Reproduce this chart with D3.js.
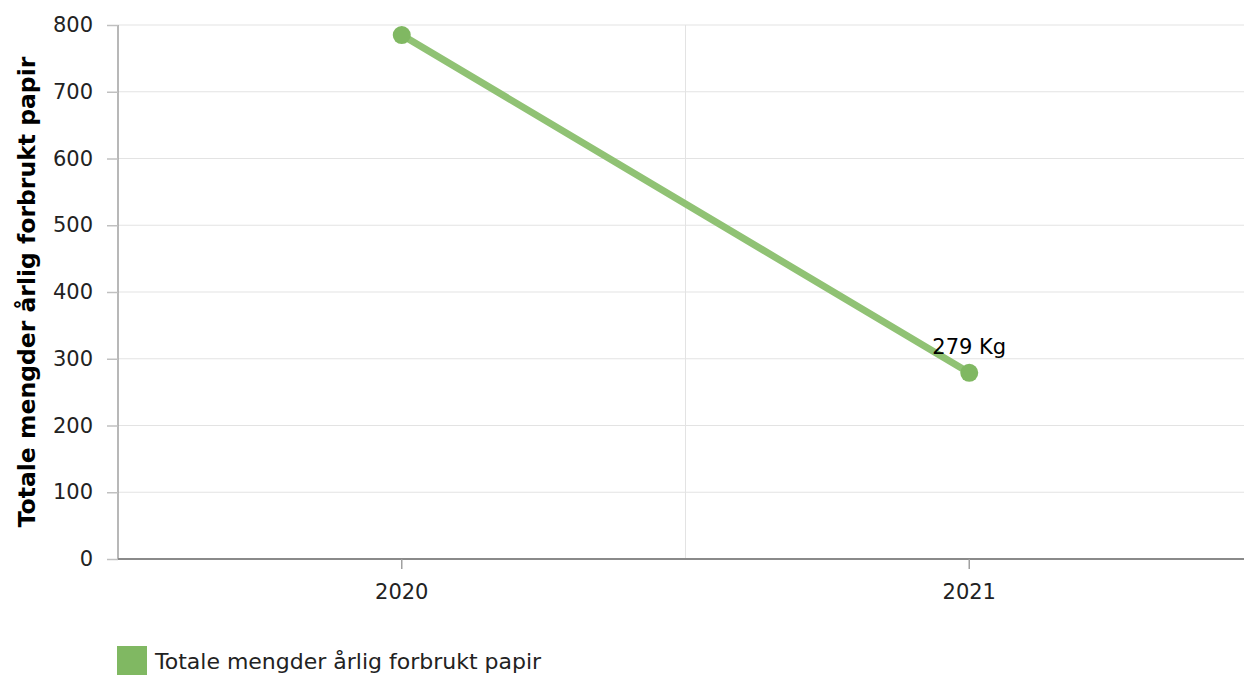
<!DOCTYPE html>
<html><head><meta charset="utf-8">
<script src="https://cdn.jsdelivr.net/npm/d3@7"></script>
<style>body{margin:0;background:#fff;} svg{display:block;font-family:Verdana,"DejaVu Sans",sans-serif;}</style>
</head><body>
<svg id="c" width="1244" height="675"></svg>
<script>
const categories = ["2020", "2021"];
const values = [785, 279];
const yTicks = [0, 100, 200, 300, 400, 500, 600, 700, 800];
const seriesName = "Totale mengder årlig forbrukt papir";
const yTitle = "Totale mengder årlig forbrukt papir";
const pointLabels = [null, "279 Kg"];

const svg = d3.select("#c");
const L = 118, R = 1253, T = 25, B = 559;
const x = d3.scaleBand().domain(categories).range([L, R]);
const y = d3.scaleLinear().domain([0, 800]).range([B, T]);
const FF = "Verdana,'DejaVu Sans',sans-serif";

svg.append("g").selectAll("line").data(yTicks.filter(d => d > 0)).join("line")
  .attr("x1", L).attr("x2", 1244).attr("y1", d => y(d)).attr("y2", d => y(d))
  .attr("stroke", "#e3e3e3").attr("stroke-width", 1);
svg.append("line").attr("x1", x("2021")).attr("x2", x("2021")).attr("y1", T).attr("y2", B)
  .attr("stroke", "#e3e3e3");

const ya = svg.append("g").attr("transform", `translate(${L},0)`)
  .call(d3.axisLeft(y).tickValues(yTicks).tickSize(11).tickPadding(14));
ya.attr("font-size", null).attr("font-family", null);
ya.select(".domain").attr("stroke", "#a0a0a0").attr("stroke-width", 1.5).attr("d", `M0,${T}V${B}`);
ya.selectAll(".tick line").attr("stroke", "#c0c0c0").attr("stroke-width", 1.5);
ya.selectAll(".tick text").style("font-size", "21px").attr("fill", "#222").style("font-family", FF);

const xa = svg.append("g").attr("transform", `translate(0,${B})`)
  .call(d3.axisBottom(x).tickSize(10).tickPadding(15));
xa.attr("font-size", null).attr("font-family", null);
xa.select(".domain").attr("stroke", "#8a8a8a").attr("stroke-width", 2).attr("d", `M${L},0H1244`);
xa.selectAll(".tick line").attr("stroke", "#a0a0a0").attr("stroke-width", 1.5);
xa.selectAll(".tick text").style("font-size", "21px").attr("fill", "#222").style("font-family", FF);

svg.append("text").attr("transform", `translate(35,${(T + B) / 2}) rotate(-90)`)
  .attr("text-anchor", "middle").style("font-size", "23.5px").attr("font-weight", "bold").attr("fill", "#000")
  .text(yTitle);

const cx = d => x(d) + x.bandwidth() / 2;
svg.append("path").datum(values)
  .attr("d", d3.line().x((d, i) => cx(categories[i])).y(d => y(d)))
  .attr("fill", "none").attr("stroke", "#90c274").attr("stroke-width", 7).attr("stroke-linecap", "round");
svg.append("g").selectAll("circle").data(values).join("circle")
  .attr("cx", (d, i) => cx(categories[i])).attr("cy", d => y(d)).attr("r", 9).attr("fill", "#80b862");

svg.append("g").selectAll("text").data(values).join("text")
  .attr("x", (d, i) => cx(categories[i])).attr("y", d => y(d) - 19)
  .attr("text-anchor", "middle").style("font-size", "21px").attr("fill", "#000")
  .text((d, i) => pointLabels[i]);

svg.append("rect").attr("x", 117).attr("y", 646).attr("width", 30).attr("height", 29).attr("fill", "#80b862");
svg.append("text").attr("x", 155).attr("y", 669).style("font-size", "22px").attr("fill", "#222").text(seriesName);
</script>
</body></html>
